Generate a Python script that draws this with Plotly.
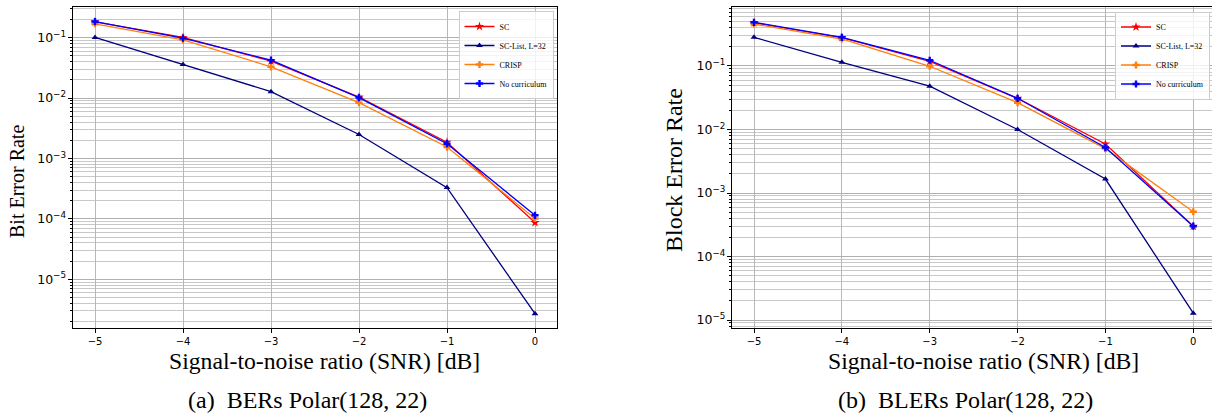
import plotly.graph_objects as go

# ---- data ----
snr = [-5, -4, -3, -2, -1, 0]
series_names = ["SC", "SC-List, L=32", "CRISP", "No curriculum"]

ber_sc = [0.182, 0.101, 0.041, 0.0104, 0.00186, 8.7e-5]
ber_list = [0.101, 0.036, 0.0128, 0.0025, 3.3e-4, 2.7e-6]
ber_crisp = [0.170, 0.092, 0.033, 0.0084, 0.00155, 1.02e-4]
ber_nocur = [0.185, 0.098, 0.0425, 0.0102, 0.00176, 1.15e-4]

bler_sc = [0.48, 0.28, 0.118, 0.031, 0.0059, 3.0e-4]
bler_list = [0.283, 0.114, 0.048, 0.0100, 0.00166, 1.28e-5]
bler_crisp = [0.458, 0.266, 0.099, 0.0264, 0.0050, 5.07e-4]
bler_nocur = [0.487, 0.283, 0.123, 0.031, 0.0052, 3.0e-4]

x_tickvals = [-5, -4, -3, -2, -1, 0]

# ---- styles ----
colors = ["#ff0000", "#000080", "#ff7f0e", "#0000ff"]
symbols = ["star", "triangle-up", "cross", "cross"]
msizes = [7, 6, 6, 6]

W, H = 1212, 416
SERIF = "Liberation Serif"
SANS = "DejaVu Sans"

fig = go.Figure()

ber = [ber_sc, ber_list, ber_crisp, ber_nocur]
bler = [bler_sc, bler_list, bler_crisp, bler_nocur]

for i, name in enumerate(series_names):
    fig.add_trace(go.Scatter(
        x=snr, y=ber[i], name=name, mode="lines+markers",
        line=dict(color=colors[i], width=1.3),
        marker=dict(symbol=symbols[i], size=msizes[i], color=colors[i]),
        xaxis="x", yaxis="y", legend="legend"))
for i, name in enumerate(series_names):
    fig.add_trace(go.Scatter(
        x=snr, y=bler[i], name=name, mode="lines+markers",
        line=dict(color=colors[i], width=1.3),
        marker=dict(symbol=symbols[i], size=msizes[i], color=colors[i]),
        xaxis="x2", yaxis="y2", legend="legend2"))

def px_x(p):
    return p / W

def px_y(p):
    return 1 - p / H

ydom = [px_y(327.7), px_y(7.3)]

common_x = dict(
    tickvals=x_tickvals, ticks="outside", ticklen=4, tickcolor="black",
    showline=True, linecolor="black", linewidth=1, mirror=True,
    showgrid=True, gridcolor="#b8b8b8", gridwidth=1, zeroline=False,
    tickfont=dict(family=SANS, size=10, color="black"),
)
common_y = dict(
    type="log", dtick=1, exponentformat="power", ticks="outside", ticklen=4,
    tickcolor="black", showline=True, linecolor="black", linewidth=1, mirror=True,
    showgrid=True, gridcolor="#b0b0b0", gridwidth=1, zeroline=False,
    tickfont=dict(family=SANS, size=10, color="black"),
    minor=dict(ticks="outside", ticklen=2, tickcolor="black", dtick="D1",
               showgrid=True, gridcolor="#c8c8c8", gridwidth=1),
)

legend_common = dict(
    font=dict(family=SERIF, size=8, color="black"),
    bgcolor="rgba(255,255,255,0.8)", bordercolor="#cccccc", borderwidth=1,
    xanchor="right", yanchor="top", itemwidth=30,
)

fig.update_layout(
    width=W, height=H,
    margin=dict(l=0, r=0, t=0, b=0),
    paper_bgcolor="white", plot_bgcolor="white",
    xaxis=dict(domain=[px_x(73), px_x(557)], range=[-5.25, 0.25], anchor="y", **common_x),
    yaxis=dict(domain=ydom, range=[-5.80, -0.497], anchor="x", **common_y),
    xaxis2=dict(domain=[px_x(732.3), 1.0], range=[-5.247, 0.213], anchor="y2", **common_x),
    yaxis2=dict(domain=ydom, range=[-5.121, -0.076], anchor="x2", **common_y),
    legend=dict(x=px_x(553.5), y=px_y(11), **legend_common),
    legend2=dict(x=px_x(1210), y=px_y(11.5), **legend_common),
    showlegend=True,
)

annotations = [
    dict(text="Bit Error Rate", x=px_x(17), y=px_y(182), textangle=-90,
         font=dict(family=SERIF, size=20, color="black")),
    dict(text="Block Error Rate", x=px_x(674), y=px_y(170), textangle=-90,
         font=dict(family=SERIF, size=24, color="black")),
    dict(text="Signal-to-noise ratio (SNR) [dB]", x=px_x(324), y=px_y(361),
         font=dict(family=SERIF, size=23.7, color="black")),
    dict(text="Signal-to-noise ratio (SNR) [dB]", x=px_x(983), y=px_y(361),
         font=dict(family=SERIF, size=23.7, color="black")),
    dict(text="(a)  BERs Polar(128, 22)", x=px_x(307), y=px_y(400),
         font=dict(family=SERIF, size=24, color="black")),
    dict(text="(b)  BLERs Polar(128, 22)", x=px_x(965), y=px_y(400),
         font=dict(family=SERIF, size=24, color="black")),
]
for a in annotations:
    a.update(xref="paper", yref="paper", showarrow=False,
             xanchor="center", yanchor="middle")
fig.update_layout(annotations=annotations)

fig.write_html(
    "out.html",
    config={"displayModeBar": False},
    post_script="document.body.style.margin='0px';document.body.style.overflow='hidden';",
)
